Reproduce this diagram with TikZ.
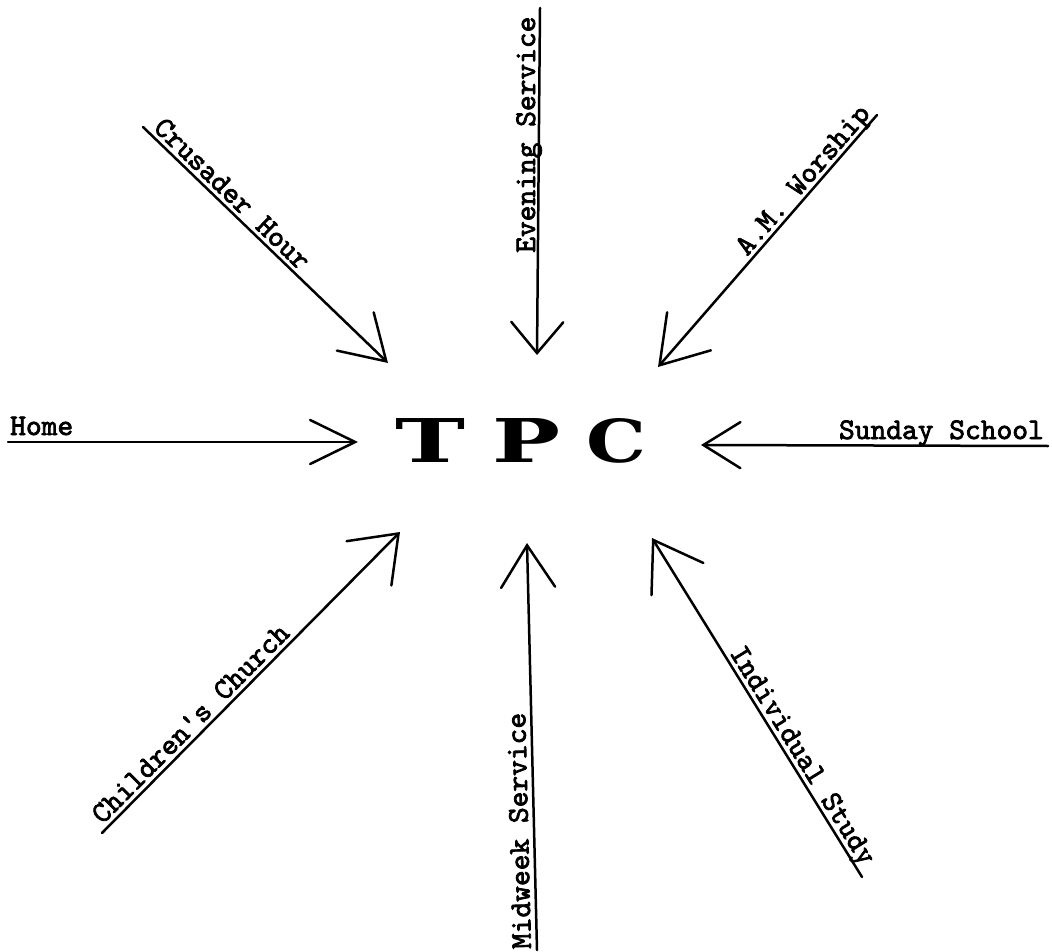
\documentclass[tikz,border=0pt]{standalone}
\usepackage{fontspec}
\newfontfamily\labfont{lmmono10-regular.otf}[FakeBold=2.5]
\newfontfamily\tpcfont{DejaVu Serif}
\usetikzlibrary{arrows.meta}
\begin{document}
\begin{tikzpicture}[x=1pt,y=-1pt,
  conn/.style={line width=2.5pt, line cap=round, line join=round},
  barb/.style 2 args={-{Straight Barb[length=#1pt,width=#2pt,line cap=round]}},
  lab/.style={font=\labfont\fontsize{30}{30}\selectfont, inner sep=0pt, anchor=base west},
  hub/.style={font=\tpcfont\bfseries\fontsize{40}{40}\selectfont, inner sep=0pt, anchor=center}
]
\useasboundingbox (0,0) rectangle (1052,952);

% central node
\node[hub] (tpc) at (520.5,440.5)
  {\resizebox{70pt}{44pt}{T}\hspace{27pt}\resizebox{68pt}{44pt}{P}\hspace{26pt}\resizebox{60pt}{44pt}{C}};

% coordinates: outer ends (S) and arrow tips (T)
\coordinate (homeS) at (8,442);    \coordinate (homeT) at (358,442);
\coordinate (sundS) at (1048,446); \coordinate (sundT) at (701,445);
\coordinate (evenS) at (540,8);    \coordinate (evenT) at (537,355);
\coordinate (crusS) at (143,127);  \coordinate (crusT) at (388,363);
\coordinate (amwS)  at (877,115);  \coordinate (amwT)  at (658,367);
\coordinate (chilS) at (102,833);  \coordinate (chilT) at (400,532);
\coordinate (midS)  at (537,950);  \coordinate (midT)  at (527,543);
\coordinate (indS)  at (862,877);  \coordinate (indT)  at (652,538);

% connectors
\draw[conn, barb={45}{44}] (homeS) -- (homeT);
\draw[conn, barb={37}{46}] (sundS) -- (sundT);
\draw[conn, barb={31}{52}] (evenS) -- (evenT);
\draw[conn, barb={43}{53}] (crusS) -- (crusT);
\draw[conn, barb={45}{58}] (amwS) -- (amwT);
\draw[conn, barb={42}{63}] (chilS) -- (chilT);
\draw[conn, barb={42}{54}] (midS) -- (midT);
\draw[conn, barb={46}{61}] (indS) -- (indT);

% labels
\node[lab] (home) at (10,435) {Home};
\node[lab, anchor=base east] (sund) at (1044,439) {Sunday School};
\node[lab, rotate=90] (even) at (535,253) {Evening Service};
\node[lab, rotate=-44] (crus) at (152.3,129) {Crusader Hour};
\node[lab, rotate=49] (amw) at (747,257) {A.M. Worship};
\node[lab, rotate=45.3] (chil) at (102.5,825) {Children's Church};
\node[lab, rotate=91.4] (mid) at (531,949) {Midweek Service};
\node[lab, rotate=-58.2] (ind) at (729,652.5) {Individual Study};
\end{tikzpicture}
\end{document}
